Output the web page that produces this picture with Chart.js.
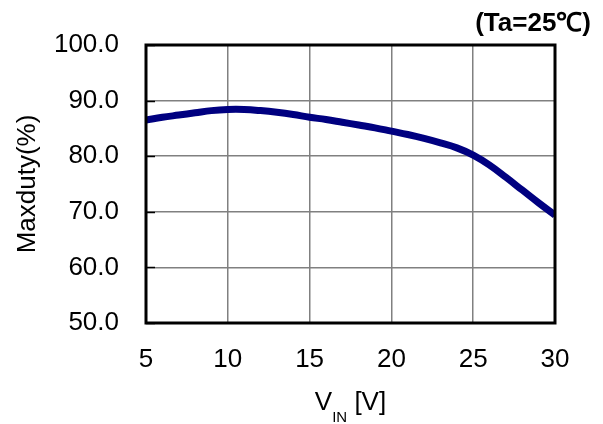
<!DOCTYPE html>
<html>
<head>
<meta charset="utf-8">
<script src="https://cdn.jsdelivr.net/npm/chart.js@4.4.1/dist/chart.umd.min.js"></script>
<style>
    html, body { margin: 0; padding: 0; background: #fff; }
    #wrap { width: 603px; height: 424px; position: relative; }
</style>
</head>
<body>
<div id="wrap"><canvas id="dutyChart" width="603" height="424"></canvas></div>
<script>
// VIN [V] 対 Maxduty(%)
const vinValues = [5, 6, 7, 8, 9, 10, 11, 12, 13, 14, 15, 16, 17, 18, 19, 20, 21, 22, 23, 24, 25, 26, 27, 28, 29, 30];
const maxdutyValues = [86.5, 87.0, 87.4, 87.8, 88.2, 88.4, 88.4, 88.2, 87.9, 87.5, 87.0, 86.6, 86.1, 85.6, 85.1, 84.5, 83.9, 83.2, 82.4, 81.5, 80.2, 78.4, 76.2, 73.9, 71.6, 69.4];
const xTicks = [5, 10, 15, 20, 25, 30];
const yTicks = [50, 60, 70, 80, 90, 100];
const noteText = '(Ta=25\u2103)';

const FONT = '"Liberation Sans", Arial, sans-serif';

// 枠線・内側目盛・注記・X軸タイトル
const framePlugin = {
    id: 'frame',
    afterDraw(chart) {
        const { ctx, chartArea: { left, top, right, bottom } } = chart;
        const yScale = chart.scales.y;
        ctx.save();
        // 左軸の内側目盛
        ctx.strokeStyle = '#000';
        ctx.lineWidth = 1.5;
        yTicks.forEach(v => {
            const py = Math.round(yScale.getPixelForValue(v)) + 0.5;
            ctx.beginPath();
            ctx.moveTo(left, py);
            ctx.lineTo(left + 9, py);
            ctx.stroke();
        });
        // 外枠
        ctx.lineWidth = 3;
        ctx.strokeRect(left, top, right - left, bottom - top);

        // (Ta=25℃)
        ctx.fillStyle = '#000';
        ctx.font = 'bold 26px ' + FONT;
        ctx.textAlign = 'right';
        ctx.textBaseline = 'middle';
        ctx.fillText(noteText, 591, 24);

        // V_IN [V]
        ctx.textAlign = 'left';
        ctx.textBaseline = 'alphabetic';
        ctx.font = '26px ' + FONT;
        const wV = ctx.measureText('V').width;
        const wRest = ctx.measureText(' [V]').width;
        ctx.font = '15px ' + FONT;
        const wSub = ctx.measureText('IN').width;
        const cx = (left + right) / 2;
        let x = cx - (wV + wSub + wRest) / 2;
        ctx.font = '26px ' + FONT;
        ctx.fillText('V', x, 410);
        x += wV;
        ctx.font = '15px ' + FONT;
        ctx.fillText('IN', x, 422);
        x += wSub;
        ctx.font = '26px ' + FONT;
        ctx.fillText(' [V]', x, 410);
        ctx.restore();
    }
};

const ctx = document.getElementById('dutyChart').getContext('2d');
const dutyChart = new Chart(ctx, {
    type: 'line',
    data: {
        datasets: [{
            data: vinValues.map((v, i) => ({ x: v, y: maxdutyValues[i] })),
            borderColor: '#000080',
            borderWidth: 7,
            pointRadius: 0,
            tension: 0.4,
            fill: false,
            clip: 0
        }]
    },
    options: {
        responsive: false,
        animation: false,
        layout: {
            padding: { left: 0, right: 48, top: 45, bottom: 0 }
        },
        plugins: {
            legend: { display: false },
            tooltip: { enabled: false }
        },
        scales: {
            x: {
                type: 'linear',
                min: 5,
                max: 30,
                afterFit(scale) { scale.height = 101; },
                afterBuildTicks(scale) { scale.ticks = xTicks.map(v => ({ value: v })); },
                ticks: {
                    font: { family: FONT, size: 26 },
                    color: '#000',
                    padding: 21,
                    maxRotation: 0
                },
                grid: { color: '#808080', lineWidth: 1.5, drawTicks: false },
                border: { display: false }
            },
            y: {
                min: 50,
                max: 100,
                afterFit(scale) { scale.width = 146; },
                afterBuildTicks(scale) { scale.ticks = yTicks.map(v => ({ value: v })); },
                ticks: {
                    font: { family: FONT, size: 26 },
                    color: '#000',
                    padding: 27,
                    callback: v => v.toFixed(1)
                },
                grid: { color: '#808080', lineWidth: 1.5, drawTicks: false },
                border: { display: false },
                title: {
                    display: true,
                    text: 'Maxduty(%)',
                    color: '#000',
                    font: { family: FONT, size: 26 },
                    padding: { top: 12, bottom: 0 }
                }
            }
        }
    },
    plugins: [framePlugin]
});
</script>
</body>
</html>
